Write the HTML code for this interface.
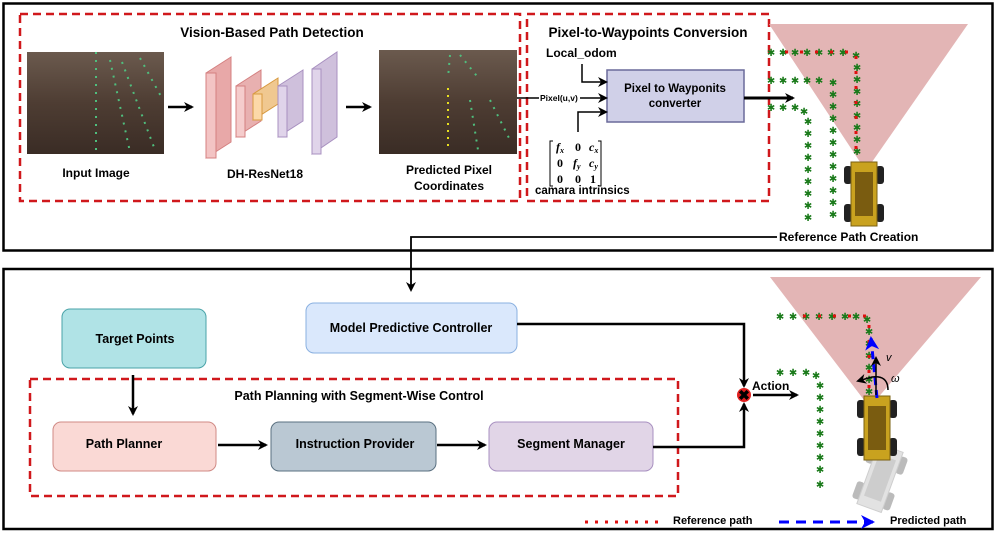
<!DOCTYPE html>
<html><head><meta charset="utf-8"><style>
body{margin:0;background:#fff;}
svg{display:block;font-family:"Liberation Sans",sans-serif;font-weight:bold;}
</style></head><body>
<svg width="996" height="534" viewBox="0 0 996 534" xmlns="http://www.w3.org/2000/svg">
<defs>
<marker id="ah" markerWidth="10" markerHeight="10" refX="8" refY="5" orient="auto" markerUnits="userSpaceOnUse"><path d="M0,0 L10,5 L0,10 L3,5 z" fill="#000"/></marker>
<marker id="bh" markerWidth="14" markerHeight="14" refX="12" refY="7" orient="auto" markerUnits="userSpaceOnUse"><path d="M0,0 L14,7 L0,14 L4,7 z" fill="#00f"/></marker>
<linearGradient id="soil" x1="0" y1="0" x2="0" y2="1"><stop offset="0" stop-color="#6b5a4e"/><stop offset="0.5" stop-color="#4e3d33"/><stop offset="1" stop-color="#3a2c25"/></linearGradient>
<g id="car">
<rect x="-20" y="-28" width="8" height="18" rx="3" fill="#222"/><rect x="12" y="-28" width="8" height="18" rx="3" fill="#222"/>
<rect x="-20" y="10" width="8" height="18" rx="3" fill="#222"/><rect x="12" y="10" width="8" height="18" rx="3" fill="#222"/>
<rect x="-13" y="-32" width="26" height="64" fill="#c9a21f" stroke="#7a6010"/>
<rect x="-9" y="-22" width="18" height="44" fill="#7a5c10"/>
</g>
<text id="st" font-size="10" fill="#1a7a1a" font-weight="normal" text-anchor="middle" y="4">✱</text>
</defs>
<rect x="3.5" y="3.5" width="989" height="247" fill="none" stroke="#000" stroke-width="2.5"/>
<rect x="3.5" y="269" width="989" height="260" fill="none" stroke="#000" stroke-width="2.5"/>
<g fill="none" stroke="#d0181c" stroke-width="2.5" stroke-dasharray="8,5">
<rect x="20" y="14" width="500" height="187"/>
<rect x="527" y="14" width="242" height="187"/>
<rect x="30" y="379" width="648" height="117"/>
</g>
<text x="272" y="37" font-size="13.5" text-anchor="middle">Vision-Based Path Detection</text>
<text x="648" y="37" font-size="13.5" text-anchor="middle">Pixel-to-Waypoints Conversion</text>
<rect x="27" y="52" width="137" height="102" fill="url(#soil)"/>
<rect x="379" y="50" width="138" height="104" fill="url(#soil)"/>
<g stroke="#4fbf7e" stroke-width="2" stroke-dasharray="2,6" fill="none">
<line x1="96" y1="52" x2="96" y2="152"/><line x1="110" y1="60" x2="130" y2="152"/><line x1="122" y1="62" x2="155" y2="150"/><line x1="140" y1="58" x2="163" y2="100"/>
<line x1="470" y1="100" x2="478" y2="150"/><line x1="450" y1="55" x2="448" y2="78"/><line x1="490" y1="100" x2="510" y2="140"/><line x1="460" y1="55" x2="480" y2="80"/>
</g>
<line x1="448" y1="88" x2="448" y2="150" stroke="#e8e020" stroke-width="2" stroke-dasharray="2,5"/>
<text x="96" y="177" font-size="12" text-anchor="middle">Input Image</text>
<text x="265" y="178" font-size="12" text-anchor="middle">DH-ResNet18</text>
<text x="449" y="174" font-size="12" text-anchor="middle">Predicted Pixel</text>
<text x="449" y="190" font-size="12" text-anchor="middle">Coordinates</text>
<g stroke-width="1">
<polygon points="206,73 231,57 231,142 206,158" fill="#e8a8a8" stroke="#d48080"/><rect x="206" y="73" width="10" height="85" fill="#f3c4c4" stroke="#d48080"/>
<polygon points="236,86 261,70 261,121 236,137" fill="#e8b0b0" stroke="#d48080"/><rect x="236" y="86" width="9" height="51" fill="#f5cccc" stroke="#d48080"/>
<polygon points="253,94 278,78 278,104 253,120" fill="#f0c890" stroke="#d89a40"/><rect x="253" y="94" width="9" height="26" fill="#fcd8a8" stroke="#d89a40"/>
<polygon points="278,86 303,70 303,121 278,137" fill="#cfc0dc" stroke="#a890c0"/><rect x="278" y="86" width="9" height="51" fill="#e0d4ea" stroke="#a890c0"/>
<polygon points="312,69 337,52 337,137 312,154" fill="#cfc0dc" stroke="#a890c0"/><rect x="312" y="69" width="9" height="85" fill="#e0d4ea" stroke="#a890c0"/>
</g>
<g stroke="#000" stroke-width="2.5" marker-end="url(#ah)">
<line x1="168" y1="107" x2="192" y2="107"/>
<line x1="346" y1="107" x2="370" y2="107"/>
</g>
<text x="546" y="57" font-size="12">Local_odom</text>
<rect x="607" y="70" width="137" height="52" fill="#d0d0e8" stroke="#6a6a9a" stroke-width="1.5"/>
<text x="675" y="92" font-size="11.5" text-anchor="middle">Pixel to Wayponits</text>
<text x="675" y="107" font-size="11.5" text-anchor="middle">converter</text>
<g stroke="#000" stroke-width="1.5" fill="none" marker-end="url(#ah)">
<polyline points="582,64 582,82 606,82"/>
<line x1="517" y1="98" x2="606" y2="98"/>
<polyline points="578,132 578,112 606,112"/>
</g>
<rect x="539" y="92" width="41" height="11" fill="#fff"/>
<text x="540" y="101" font-size="8.5">Pixel(u,v)</text>
<g font-family="Liberation Serif,serif" font-size="12" font-style="italic">
<text x="556" y="151">f<tspan font-size="8" dy="2">x</tspan></text><text x="575" y="151" font-style="normal">0</text><text x="589" y="151">c<tspan font-size="8" dy="2">x</tspan></text>
<text x="557" y="167" font-style="normal">0</text><text x="573" y="167">f<tspan font-size="8" dy="2">y</tspan></text><text x="589" y="167">c<tspan font-size="8" dy="2">y</tspan></text>
<text x="557" y="183" font-style="normal">0</text><text x="575" y="183" font-style="normal">0</text><text x="590" y="183" font-style="normal">1</text>
</g>
<path d="M553,141 L550,141 L550,186 L553,186 M598,141 L601,141 L601,186 L598,186" stroke="#000" fill="none"/>
<text x="535" y="194" font-size="11.5">camara intrinsics</text>
<line x1="744" y1="98" x2="793" y2="98" stroke="#000" stroke-width="3" marker-end="url(#ah)"/>
<polygon points="769,24 968,24 872,162 860,162" fill="#e3b5b5"/>
<!-- top-right stars -->
<g>
<use href="#st" x="771" y="52"/><use href="#st" x="783" y="52"/><use href="#st" x="795" y="52"/><use href="#st" x="807" y="52"/><use href="#st" x="819" y="52"/><use href="#st" x="831" y="52"/><use href="#st" x="843" y="52"/><use href="#st" x="856" y="55"/>
<use href="#st" x="857" y="67"/><use href="#st" x="857" y="79"/><use href="#st" x="857" y="91"/><use href="#st" x="857" y="103"/><use href="#st" x="857" y="115"/><use href="#st" x="857" y="127"/><use href="#st" x="857" y="139"/><use href="#st" x="857" y="151"/>
<use href="#st" x="771" y="80"/><use href="#st" x="783" y="80"/><use href="#st" x="795" y="80"/><use href="#st" x="807" y="80"/><use href="#st" x="819" y="80"/>
<use href="#st" x="833" y="82"/><use href="#st" x="833" y="94"/><use href="#st" x="833" y="106"/><use href="#st" x="833" y="118"/><use href="#st" x="833" y="130"/><use href="#st" x="833" y="142"/><use href="#st" x="833" y="154"/><use href="#st" x="833" y="166"/><use href="#st" x="833" y="178"/><use href="#st" x="833" y="190"/><use href="#st" x="833" y="202"/><use href="#st" x="833" y="214"/>
<use href="#st" x="771" y="107"/><use href="#st" x="783" y="107"/><use href="#st" x="795" y="107"/><use href="#st" x="804" y="111"/>
<use href="#st" x="808" y="121"/><use href="#st" x="808" y="133"/><use href="#st" x="808" y="145"/><use href="#st" x="808" y="157"/><use href="#st" x="808" y="169"/><use href="#st" x="808" y="181"/><use href="#st" x="808" y="193"/><use href="#st" x="808" y="205"/><use href="#st" x="808" y="217"/>
</g>
<polyline points="785,52 856,52 856,160" stroke="#e01010" stroke-width="3" stroke-dasharray="3,12" fill="none"/>
<use href="#car" transform="translate(864,194)"/>
<polyline points="777,237 411,237 411,290" stroke="#000" stroke-width="1.8" fill="none" marker-end="url(#ah)"/>
<rect x="778" y="228" width="160" height="16" fill="#fff"/>
<text x="779" y="241" font-size="12">Reference Path Creation</text>
<rect x="62" y="309" width="144" height="59" rx="8" fill="#b0e3e6" stroke="#4aa3a8"/>
<text x="135" y="343" font-size="12.5" text-anchor="middle">Target Points</text>
<rect x="306" y="303" width="211" height="50" rx="8" fill="#dae8fc" stroke="#8ab0e0"/>
<text x="411" y="332" font-size="12.5" text-anchor="middle">Model Predictive Controller</text>
<text x="359" y="400" font-size="12.5" text-anchor="middle">Path Planning with Segment-Wise Control</text>
<rect x="53" y="422" width="163" height="49" rx="8" fill="#fad9d5" stroke="#d08a85"/>
<text x="124" y="448" font-size="12.5" text-anchor="middle">Path Planner</text>
<rect x="271" y="422" width="165" height="49" rx="8" fill="#bac8d3" stroke="#5a7080"/>
<text x="355" y="448" font-size="12.5" text-anchor="middle">Instruction Provider</text>
<rect x="489" y="422" width="164" height="49" rx="8" fill="#e1d5e7" stroke="#a890c0"/>
<text x="571" y="448" font-size="12.5" text-anchor="middle">Segment Manager</text>
<g stroke="#000" stroke-width="2.5" fill="none" marker-end="url(#ah)">
<line x1="133" y1="375" x2="133" y2="414"/>
<line x1="218" y1="445" x2="266" y2="445"/>
<line x1="437" y1="445" x2="485" y2="445"/>
<polyline points="517,324 744,324 744,386"/>
<polyline points="653,447 744,447 744,404"/>
<line x1="753" y1="395" x2="797" y2="395"/>
</g>
<circle cx="744" cy="395" r="7" fill="#e02020"/>
<text x="744" y="400" font-size="14" text-anchor="middle" fill="#000">✖</text>
<text x="752" y="390" font-size="12">Action</text>
<polygon points="770,277 981,277 876,400 864,400" fill="#e3b5b5"/>
<!-- bottom-right stars -->
<g>
<use href="#st" x="780" y="316"/><use href="#st" x="793" y="316"/><use href="#st" x="806" y="316"/><use href="#st" x="819" y="316"/><use href="#st" x="832" y="316"/><use href="#st" x="845" y="316"/><use href="#st" x="856" y="316"/><use href="#st" x="867" y="319"/>
<use href="#st" x="869" y="331"/><use href="#st" x="869" y="343"/><use href="#st" x="869" y="355"/><use href="#st" x="869" y="367"/><use href="#st" x="869" y="379"/><use href="#st" x="869" y="391"/>
<use href="#st" x="780" y="372"/><use href="#st" x="793" y="372"/><use href="#st" x="806" y="372"/><use href="#st" x="816" y="375"/>
<use href="#st" x="820" y="385"/><use href="#st" x="820" y="397"/><use href="#st" x="820" y="409"/><use href="#st" x="820" y="421"/><use href="#st" x="820" y="433"/><use href="#st" x="820" y="445"/><use href="#st" x="820" y="457"/><use href="#st" x="820" y="469"/><use href="#st" x="820" y="484"/>
</g>
<polyline points="803,316 869,316 869,390" stroke="#e01010" stroke-width="3" stroke-dasharray="3,12" fill="none"/>
<g opacity="0.3" filter="grayscale(1)"><use href="#car" transform="translate(880,478) rotate(20)"/></g>
<use href="#car" transform="translate(877,428)"/>
<line x1="877" y1="398" x2="871" y2="338" stroke="#00f" stroke-width="3" stroke-dasharray="8,5" marker-end="url(#bh)"/>
<line x1="876" y1="395" x2="876" y2="358" stroke="#000" stroke-width="1.5" marker-end="url(#ah)"/>
<path d="M888,390 Q888,375 872,377 L858,381" stroke="#000" stroke-width="1.5" fill="none" marker-end="url(#ah)"/>
<text x="886" y="361" font-size="11" font-style="italic" font-weight="normal">v</text>
<text x="891" y="382" font-size="11" font-style="italic" font-weight="normal">ω</text>
<line x1="585" y1="522" x2="665" y2="522" stroke="#e01010" stroke-width="3" stroke-dasharray="3,7"/>
<text x="673" y="524" font-size="11">Reference path</text>
<line x1="779" y1="522" x2="873" y2="522" stroke="#00f" stroke-width="3" stroke-dasharray="10,7" marker-end="url(#bh)"/>
<text x="890" y="524" font-size="11">Predicted path</text>
</svg>
</body></html>
